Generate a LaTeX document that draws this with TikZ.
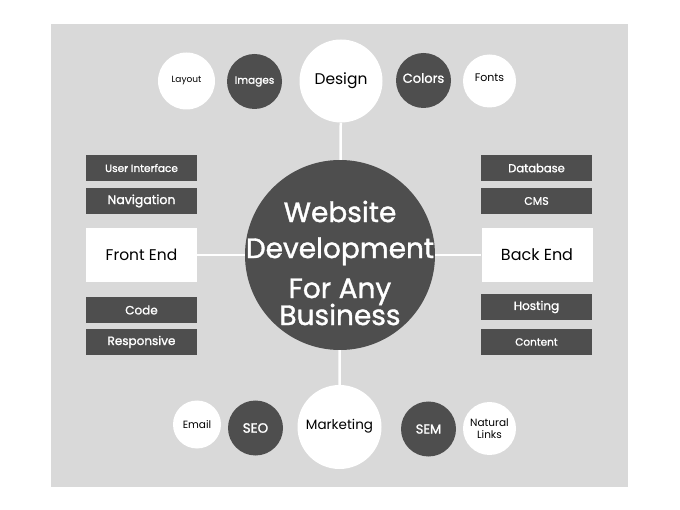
\documentclass[tikz,border=0pt]{standalone}
\usepackage{fontspec}
\setmainfont{Poppins}
\newfontfamily\mediumFont{Poppins}[FakeBold=1.3]
\usetikzlibrary{positioning}
\definecolor{bgGray}{HTML}{D9D9D9}
\definecolor{darkGray}{HTML}{4E4E4E}

\begin{document}
\begin{tikzpicture}[x=1pt, y=-1pt,
    bubble/.style={circle, inner sep=0pt, align=center},
    darkBubble/.style={bubble, fill=darkGray, text=white, font=\mediumFont\fontsize{#1}{#1}\selectfont},
    lightBubble/.style={bubble, fill=white, text=black, font=\fontsize{#1}{12.5}\selectfont},
    box/.style={rectangle, inner sep=0pt, minimum width=111pt},
    darkBox/.style={box, fill=darkGray, text=white, minimum height=26pt, font=\mediumFont\fontsize{#1}{#1}\selectfont},
    lightBox/.style={box, fill=white, text=black, minimum height=54pt, font=\fontsize{#1}{#1}\selectfont},
    link/.style={white, line width=2.5pt}]
    \useasboundingbox (0,0) rectangle (680,510);
    \fill[bgGray] (51,24) rectangle (628,487);
    % Hub
    \node[bubble, fill=darkGray, minimum size=190pt] (hub) at (340,255) {};
    \node[text=white, align=center, font=\mediumFont\fontsize{28}{36}\selectfont] (hubText) at (340,263)
        {Website\\Development\\[4pt]For Any\\[-9pt]Business};
    % Top row
    \node[lightBubble=9, minimum size=57pt] (layout) at (186.5,81) {Layout};
    \node[darkBubble=10.5, minimum size=55pt] (images) at (254.5,81.5) {Images};
    \node[lightBubble=15.5, minimum size=83pt] (design) at (341,81) {Design};
    \node[darkBubble=13, minimum size=55pt, text depth=5pt] (colors) at (423.5,80.5) {Colors};
    \node[lightBubble=11, minimum size=53pt, text depth=7pt] (fonts) at (489.5,81) {Fonts};
    % Bottom row
    \node[lightBubble=10.5, minimum size=48pt] (email) at (197,424.5) {Email};
    \node[darkBubble=13.5, minimum size=55pt] (seo) at (255.5,428) {SEO};
    \node[lightBubble=13.5, minimum size=84pt, text depth=5pt] (marketing) at (339.5,427) {Marketing};
    \node[darkBubble=13, minimum size=55pt] (sem) at (428.5,429) {SEM};
    \node[lightBubble=10.5, minimum size=53pt] (links) at (489.5,428.5) {Natural\\Links};
    % Left column
    \foreach \y/\name/\txt/\s in {168/userInterface/User Interface/10.5, 201/navigation/Navigation/12.5,
                                 310/code/Code/12, 342/responsive/Responsive/12}
        \node[darkBox=\s] (\name) at (141.5,\y) {\txt};
    \node[lightBox=15.5] (frontEnd) at (141.5,255) {Front End};
    % Right column
    \foreach \y/\name/\txt/\s in {168/database/Database/11.5, 201/cms/CMS/11,
                                 307/hosting/Hosting/12, 342/content/Content/10.5}
        \node[darkBox=\s] (\name) at (536.5,\y) {\txt};
    \node[lightBox=16] (backEnd) at (537,255) {Back End};
    % Connectors
    \draw[link] (design) -- (hub);
    \draw[link] (frontEnd) -- (hub);
    \draw[link] (hub) -- (backEnd);
    \draw[link] (hub) -- (marketing);
\end{tikzpicture}
\end{document}
